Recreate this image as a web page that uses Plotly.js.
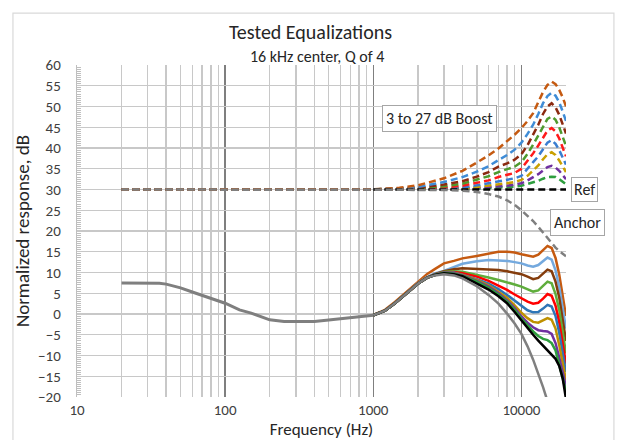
<!DOCTYPE html>
<html>
<head>
<meta charset="utf-8">
<script src="https://cdn.plot.ly/plotly-3.0.1.min.js"></script>
<style>html,body{margin:0;padding:0;background:#fff;}#chart{width:621px;height:440px;}</style>
</head>
<body>
<div id="chart"></div>
<script>
// ---------- data ----------
const freqLow = [20, 25, 30, 36, 40, 50, 60, 70, 80, 100, 125, 150, 200, 250, 300, 400, 500, 600, 700, 800, 1000];
const baseLow = [7.5, 7.5, 7.5, 7.4, 7.2, 6.3, 5.3, 4.5, 3.8, 2.6, 1.0, 0.2, -1.4, -1.8, -1.8, -1.8, -1.45, -1.15, -0.8, -0.65, -0.3];

const freqHigh = [1000, 1200, 1400, 1600, 1800, 2000, 2300, 2600, 3000, 3500, 4000, 5000, 6000, 7000, 8000, 9000, 10000, 11000, 12000, 13000, 14000, 15000, 16000, 17000, 18000, 19000, 20000];
const respAnchor = [-0.3, 0.8, 2.6, 4.3, 6.0, 7.3, 8.7, 9.3, 9.6, 9.3, 8.6, 6.7, 4.6, 2.5, 0.1, -2.3, -4.8, -7.8, -11.0, -14.3, -17.6, -21.0, null, null, null, null, null];
const respRef    = [-0.3, 0.8, 2.6, 4.3, 6.0, 7.3, 8.7, 9.4, 9.8, 9.6, 9.1, 7.4, 5.9, 4.3, 2.6, 0.5, -1.6, -3.4, -5.0, -6.4, -7.6, -8.6, -9.6, -10.8, -12.5, -15.5, -20.5];
const resp3  = [-0.3, 0.8, 2.6, 4.3, 6.0, 7.3, 8.7, 9.4, 9.85, 9.7, 9.2, 7.8, 6.3, 4.7, 3.0, 1.0, -1.1, -2.8, -4.2, -5.3, -6.0, -6.3, -7.0, -8.8, -12.0, -15.5, -18.7];
const resp6  = [-0.3, 0.8, 2.6, 4.3, 6.0, 7.3, 8.7, 9.4, 9.9, 9.8, 9.3, 8.0, 6.6, 5.0, 3.3, 1.4, -0.6, -2.1, -3.2, -3.9, -4.1, -4.2, -4.8, -7.0, -10.5, -14.5, -17.5];
const resp9  = [-0.3, 0.8, 2.6, 4.3, 6.0, 7.3, 8.7, 9.4, 9.9, 9.9, 9.4, 8.2, 6.9, 5.4, 3.9, 2.1, 0.3, -1.0, -1.9, -2.1, -1.5, -1.0, -1.4, -3.5, -7.5, -12.0, -16.0];
const resp12 = [-0.3, 0.8, 2.6, 4.3, 6.0, 7.3, 8.7, 9.45, 10.0, 10.0, 9.5, 8.4, 7.3, 6.0, 4.6, 3.2, 1.9, 0.9, 0.4, 0.5, 1.3, 2.2, 1.8, -0.5, -4.5, -9.5, -14.0];
const resp15 = [-0.3, 0.8, 2.6, 4.3, 6.0, 7.3, 8.7, 9.5, 10.0, 10.1, 9.8, 9.0, 8.0, 6.9, 5.8, 4.7, 3.8, 3.0, 2.5, 2.7, 3.7, 4.8, 4.4, 2.0, -2.0, -7.0, -12.0];
const resp18 = [-0.3, 0.8, 2.6, 4.3, 6.0, 7.3, 8.7, 9.5, 10.1, 10.3, 10.2, 9.5, 8.8, 8.2, 7.7, 7.1, 6.6, 5.9, 5.4, 5.7, 6.8, 7.8, 7.4, 4.8, 1.0, -4.0, -9.5];
const resp21 = [-0.3, 0.8, 2.6, 4.3, 6.0, 7.3, 8.8, 9.6, 10.3, 10.8, 11.0, 10.9, 10.8, 10.6, 10.3, 10.0, 9.6, 9.0, 8.4, 8.7, 9.8, 10.7, 10.3, 7.8, 4.0, -1.0, -6.5];
const resp24 = [-0.3, 0.8, 2.6, 4.4, 6.1, 7.4, 8.9, 9.8, 10.4, 11.4, 12.1, 12.7, 13.0, 12.9, 12.8, 12.5, 12.2, 11.7, 11.4, 11.8, 12.8, 13.6, 13.1, 10.5, 6.5, 1.5, -3.5];
const resp27 = [-0.2, 1.0, 2.9, 4.7, 6.4, 7.8, 9.6, 10.8, 12.2, 12.8, 13.4, 14.0, 14.6, 15.0, 15.0, 14.8, 14.4, 14.0, 13.8, 14.3, 15.5, 16.4, 15.9, 13.5, 9.5, 4.5, -0.5];

const freqEq = [20, 1000, 1500, 2000, 3000, 4000, 5000, 6000, 7000, 8000, 9000, 10000, 11000, 12000, 13000, 14000, 15000, 16000, 17000, 18000, 19000, 20000];
const eq3  = [30, 30, 30.0, 30.0, 30.0, 30.1, 30.2, 30.3, 30.4, 30.5, 30.7, 30.9, 31.3, 31.7, 32.1, 32.6, 33.0, 33.1, 33.0, 32.5, 31.9, 31.3];
const eq6  = [30, 30, 30.0, 30.0, 30.1, 30.2, 30.4, 30.5, 30.7, 30.9, 31.2, 31.5, 32.2, 33.0, 33.7, 34.6, 35.4, 35.7, 35.3, 34.5, 33.5, 32.5];
const eq9  = [30, 30, 30.0, 30.1, 30.2, 30.3, 30.6, 30.9, 31.2, 31.5, 31.8, 32.3, 33.3, 34.6, 35.8, 37.3, 38.5, 39.0, 38.3, 37.0, 35.5, 34.2];
const eq12 = [30, 30, 30.0, 30.1, 30.3, 30.5, 31.0, 31.5, 32.0, 32.4, 32.7, 33.3, 34.9, 36.6, 38.0, 39.8, 41.3, 41.9, 41.0, 39.5, 37.7, 36.0];
const eq15 = [30, 30, 30.1, 30.2, 30.5, 30.9, 31.6, 32.2, 33.0, 33.5, 34.0, 35.0, 36.8, 38.7, 40.6, 42.6, 44.2, 44.8, 44.0, 42.3, 40.2, 38.0];
const eq18 = [30, 30, 30.1, 30.3, 30.8, 31.4, 32.3, 33.2, 34.2, 34.8, 35.5, 36.6, 38.6, 40.8, 43.0, 45.3, 47.0, 47.6, 46.8, 45.0, 42.8, 40.5];
const eq21 = [30, 30, 30.2, 30.4, 31.2, 32.0, 33.1, 34.2, 35.5, 36.3, 37.2, 38.5, 40.7, 43.1, 45.6, 48.2, 50.0, 50.8, 49.8, 48.0, 45.8, 43.5];
const eq24 = [30, 30, 30.3, 30.6, 31.8, 33.0, 34.3, 35.6, 37.1, 38.3, 39.6, 41.3, 43.4, 45.6, 48.2, 50.8, 52.5, 53.3, 52.6, 51.0, 48.8, 46.5];
const eq27 = [30, 30, 30.4, 31.0, 32.7, 34.5, 36.5, 38.2, 39.9, 41.6, 43.2, 44.8, 46.5, 48.4, 51.0, 53.5, 55.2, 56.0, 55.4, 54.0, 52.2, 50.0];

const freqRef = [1000, 20000];
const eqRef = [30, 30];
const freqAnchorEq = [20, 1000, 2000, 3000, 4000, 5000, 6000, 7000, 8000, 9000, 10000, 11000, 12000, 13000, 14000, 15000, 16000, 17000, 18000, 19000, 20000];
const eqAnchor = [30, 30, 30, 29.9, 29.7, 29.4, 28.9, 28.3, 27.4, 26.3, 25.0, 23.7, 22.4, 21.0, 19.6, 18.2, 17.0, 16.0, 15.2, 14.5, 13.9];

const xTickVals = [10, 100, 1000, 10000];
const xTickText = ['10', '100', '1000', '10000'];

// boost levels 3..27 dB, bottom to top
const solidSeries = [resp3, resp6, resp9, resp12, resp15, resp18, resp21, resp24, resp27];
const dashSeries  = [eq3, eq6, eq9, eq12, eq15, eq18, eq21, eq24, eq27];
const solidColors = ['#2E9E3E', '#7030A0', '#BF9000', '#2E75B6', '#FF0000', '#5FAD3C', '#843C0C', '#74A9DE', '#C55A11'];
const dashColors  = ['#2E9E3E', '#7030A0', '#C9A000', '#3A7DD0', '#FF1A1A', '#4E9A2E', '#8B2A10', '#3F8CD6', '#C55A11'];

// ---------- traces ----------
const traces = [];
const dashPat = '7px,4px';
dashSeries.forEach((ys, i) => {
  traces.push({x: freqEq, y: ys, type: 'scatter', mode: 'lines',
    line: {color: dashColors[i], width: 2.5, dash: dashPat}, hoverinfo: 'skip'});
});
traces.push({x: freqRef, y: eqRef, type: 'scatter', mode: 'lines',
  line: {color: '#000000', width: 2.5, dash: dashPat}, hoverinfo: 'skip'});
traces.push({x: freqAnchorEq, y: eqAnchor, type: 'scatter', mode: 'lines',
  line: {color: '#7F7F7F', width: 2.5, dash: dashPat}, hoverinfo: 'skip'});

for (let i = solidSeries.length - 1; i >= 0; i--) {
  traces.push({x: freqHigh, y: solidSeries[i], type: 'scatter', mode: 'lines',
    line: {color: solidColors[i], width: 2.5}, hoverinfo: 'skip'});
}
traces.push({x: freqHigh, y: respRef, type: 'scatter', mode: 'lines',
  line: {color: '#000000', width: 2.5}, hoverinfo: 'skip'});
traces.push({x: freqHigh, y: respAnchor, type: 'scatter', mode: 'lines', connectgaps: false,
  line: {color: '#7F7F7F', width: 2.5}, hoverinfo: 'skip'});
traces.push({x: freqLow, y: baseLow, type: 'scatter', mode: 'lines',
  line: {color: '#7F7F7F', width: 3}, hoverinfo: 'skip'});

const fontFam = 'Carlito, Calibri, Lato, "Liberation Sans", sans-serif';

const layout = {
  width: 621, height: 440,
  margin: {l: 77, r: 55, t: 65, b: 43},
  paper_bgcolor: '#ffffff', plot_bgcolor: '#ffffff',
  showlegend: false,
  font: {family: fontFam, color: '#404040', size: 15},
  title: {text: 'Tested Equalizations', x: 0.5, xanchor: 'center', xref: 'container',
          y: 0.927, yanchor: 'middle', yref: 'container',
          font: {family: fontFam, size: 20, color: '#262626'}},
  xaxis: {
    type: 'log', range: [1, Math.log10(20000)],
    tickvals: xTickVals, ticktext: xTickText, ticks: '', ticklabelstandoff: 2,
    showgrid: true, gridcolor: '#7F7F7F', gridwidth: 1.5,
    minor: {dtick: 'D1', showgrid: true, gridcolor: '#C8C8C8', gridwidth: 1.5, ticks: ''},
    showline: false, zeroline: false,
    tickfont: {family: fontFam, size: 15, color: '#404040'},
    title: {text: 'Frequency (Hz)', standoff: 5, font: {family: fontFam, size: 17, color: '#262626'}}
  },
  yaxis: {
    range: [-20, 60], dtick: 5, tick0: 0,
    showgrid: true, gridcolor: '#C8C8C8', gridwidth: 1.2,
    zeroline: false, showline: true, linecolor: '#BFBFBF', linewidth: 1.2,
    ticks: '', ticklabelstandoff: 12,
    minor: {dtick: 0.5, ticks: 'inside', ticklen: 4, tickcolor: '#BFBFBF', tickwidth: 1, showgrid: false},
    tickfont: {family: fontFam, size: 15, color: '#404040'},
    title: {text: 'Normalized response, dB', standoff: 3, font: {family: fontFam, size: 19, color: '#262626'}}
  },
  annotations: [
    {text: '16 kHz center, Q of 4', xref: 'paper', yref: 'paper', x: 0.49, y: 1.027,
     xanchor: 'center', yanchor: 'middle', showarrow: false,
     font: {family: fontFam, size: 16, color: '#262626'}},
    {text: '3 to 27 dB Boost', xref: 'x', yref: 'y', x: Math.log10(2795), y: 47.1,
     xanchor: 'center', yanchor: 'middle', showarrow: false, bgcolor: '#ffffff',
     bordercolor: '#A6A6A6', borderwidth: 1, borderpad: 3,
     font: {family: fontFam, size: 16, color: '#262626'}},
    {text: 'Ref', xref: 'paper', yref: 'y', x: 1.037, y: 29.9,
     xanchor: 'center', yanchor: 'middle', showarrow: false, bgcolor: '#ffffff',
     bordercolor: '#A6A6A6', borderwidth: 1, borderpad: 2,
     font: {family: fontFam, size: 16, color: '#262626'}},
    {text: 'Anchor', xref: 'paper', yref: 'y', x: 1.0225, y: 22.05,
     xanchor: 'center', yanchor: 'middle', showarrow: false, bgcolor: '#ffffff',
     bordercolor: '#A6A6A6', borderwidth: 1, borderpad: 3,
     font: {family: fontFam, size: 16, color: '#262626'}}
  ],
  shapes: [
    {type: 'rect', xref: 'paper', yref: 'paper', x0: -0.131, x1: 1.098, y0: -0.2, y1: 1.156,
     line: {color: '#D9D9D9', width: 1.2}, fillcolor: 'rgba(0,0,0,0)', layer: 'below'}
  ]
};

Plotly.newPlot('chart', traces, layout, {staticPlot: true, displayModeBar: false});
</script>
</body>
</html>
